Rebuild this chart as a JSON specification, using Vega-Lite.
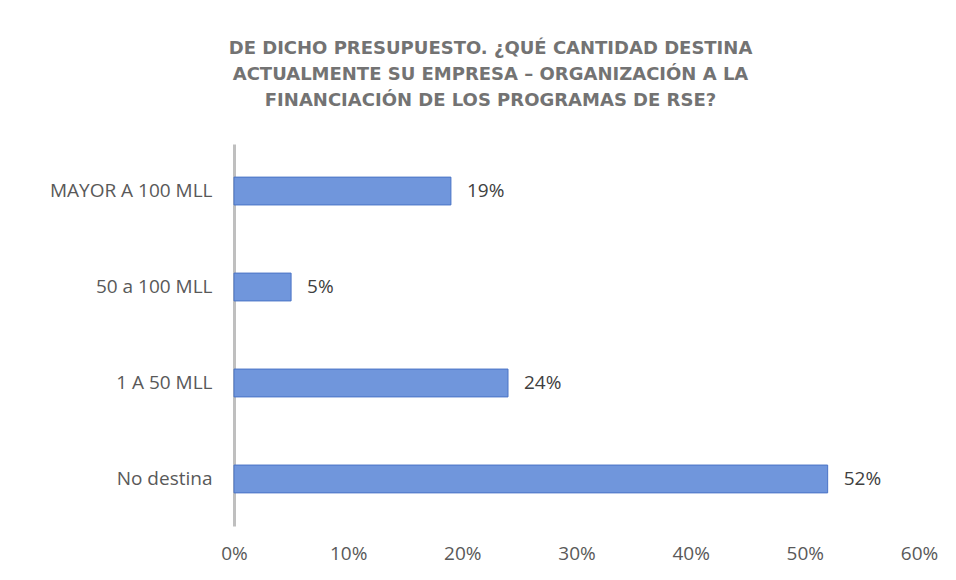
{
  "$schema": "https://vega.github.io/schema/vega-lite/v6.json",
  "width": 685,
  "height": 382,
  "autosize": {"type": "none"},
  "padding": {"left": 234, "top": 144, "right": 37, "bottom": 54},
  "background": "white",
  "config": {"view": {"stroke": null}, "font": "Open Sans"},
  "title": {
    "text": ["DE DICHO PRESUPUESTO. ¿QUÉ CANTIDAD DESTINA", "ACTUALMENTE SU EMPRESA – ORGANIZACIÓN A LA", "FINANCIACIÓN DE LOS PROGRAMAS DE RSE?"],
    "font": "DejaVu Sans",
    "fontSize": 18,
    "fontWeight": "bold",
    "color": "#737373",
    "lineHeight": 26,
    "anchor": "middle",
    "dx": -86,
    "offset": 34
  },
  "data": {
    "values": [
      {"categoria": "MAYOR A 100 MLL", "valor": 0.19, "etiqueta": "19%"},
      {"categoria": "50 a 100 MLL", "valor": 0.05, "etiqueta": "5%"},
      {"categoria": "1 A 50 MLL", "valor": 0.24, "etiqueta": "24%"},
      {"categoria": "No destina", "valor": 0.52, "etiqueta": "52%"}
    ]
  },
  "encoding": {
    "y": {
      "field": "categoria",
      "type": "nominal",
      "sort": ["MAYOR A 100 MLL", "50 a 100 MLL", "1 A 50 MLL", "No destina"],
      "scale": {"paddingInner": 0.71, "paddingOuter": 0.345},
      "axis": {
        "title": null,
        "ticks": false,
        "domainColor": "#bfbfbf",
        "domainWidth": 3,
        "labelFontSize": 19,
        "labelColor": "#595959",
        "labelPadding": 22,
        "labelFont": "Open Sans"
      }
    },
    "x": {
      "field": "valor",
      "type": "quantitative",
      "scale": {"domain": [0, 0.6], "nice": false},
      "axis": {
        "title": null,
        "format": ".0%",
        "values": [0, 0.1, 0.2, 0.3, 0.4, 0.5, 0.6],
        "grid": false,
        "ticks": false,
        "domain": false,
        "labelFlush": false,
        "labelFontSize": 19,
        "labelColor": "#595959",
        "labelPadding": 18,
        "labelFont": "Open Sans"
      }
    }
  },
  "layer": [
    {
      "mark": {"type": "bar", "fill": "#7096dc", "stroke": "#4a74c6", "strokeWidth": 1}
    },
    {
      "mark": {"type": "text", "align": "left", "baseline": "middle", "dx": 16, "fontSize": 19, "color": "#404040", "font": "Open Sans"},
      "encoding": {"text": {"field": "etiqueta"}}
    }
  ]
}
